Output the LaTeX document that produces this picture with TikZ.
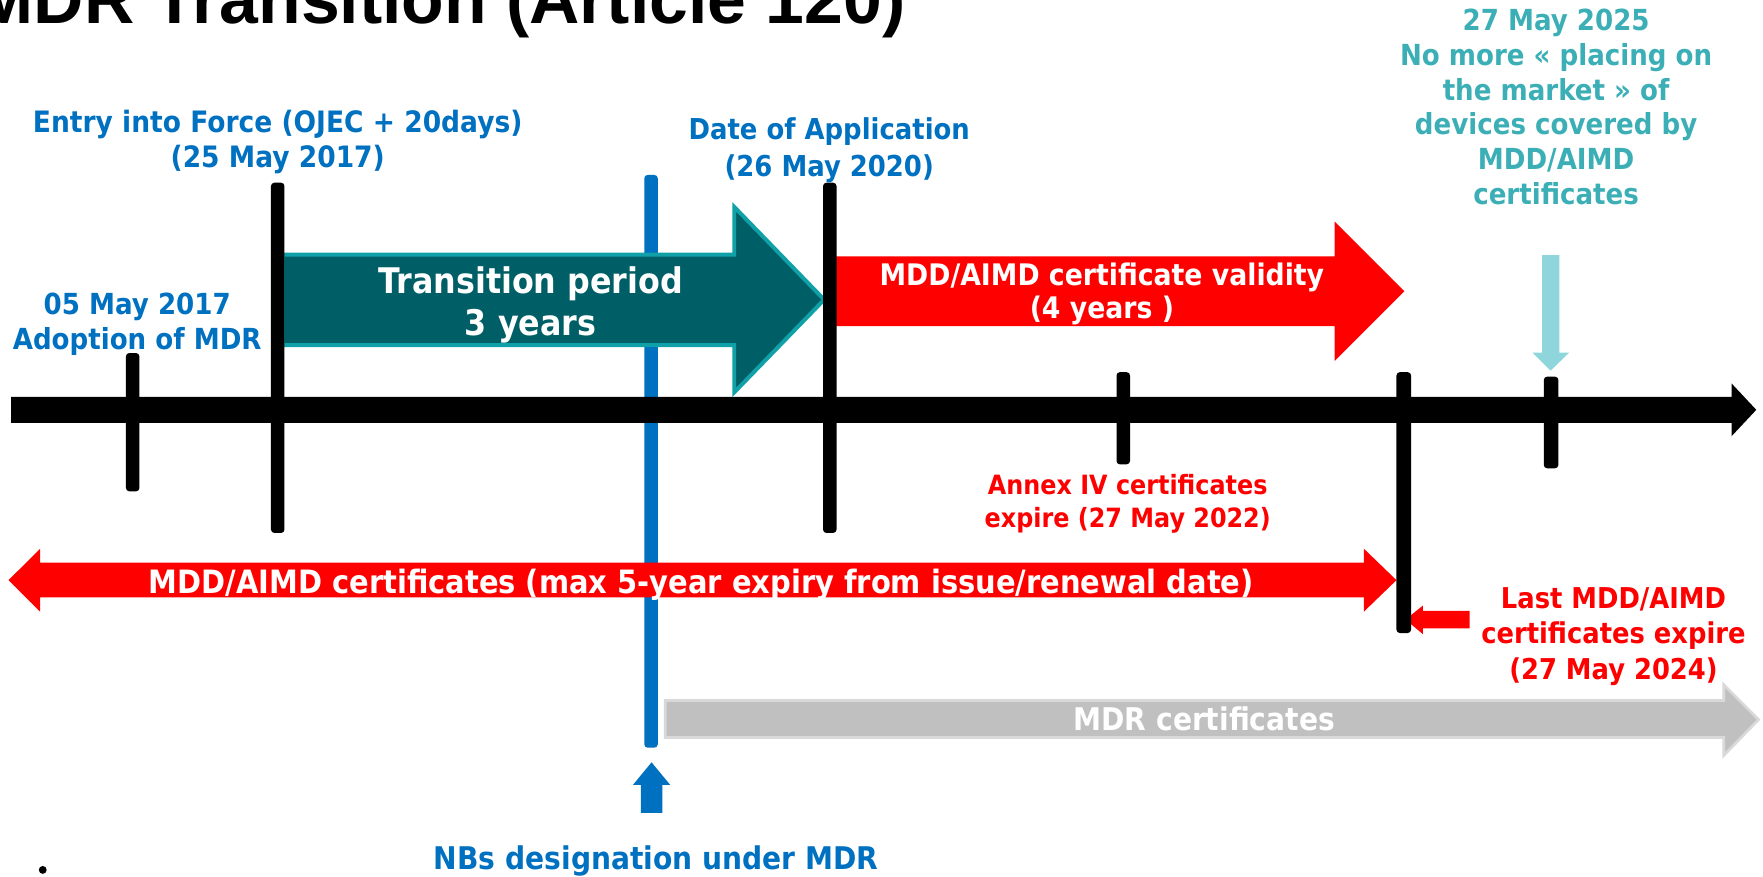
\documentclass[tikz,border=0pt]{standalone}
\usepackage{fontspec}
\newfontfamily\tah{DejaVu Sans}[FakeStretch=0.9]
\newfontfamily\ttl{Liberation Sans}
\definecolor{euBlue}{RGB}{0,112,192}
\definecolor{mddRed}{RGB}{255,0,0}
\definecolor{tealDark}{RGB}{0,95,102}
\definecolor{tealEdge}{RGB}{16,160,168}
\definecolor{tealText}{RGB}{60,175,182}
\definecolor{tealLight}{RGB}{142,214,220}
\definecolor{mdrGrey}{RGB}{192,192,192}
\definecolor{mdrEdge}{RGB}{217,217,217}
\begin{document}
\begin{tikzpicture}[x=0.5pt,y=-0.5pt,
  lbl/.style={inner sep=0pt, align=center, anchor=base},
  fs/.style 2 args={font=\tah\bfseries\fontsize{#1}{#2}\selectfont},
  tickbar/.style={fill=black, rounded corners=1.5}]
\useasboundingbox (0,0) rectangle (1568,780);

% title, partly above the page
\node[anchor=base west, inner sep=0pt, font=\ttl\bfseries\fontsize{31}{36}\selectfont] (title) at (-22,21) {MDR Transition (Article 120)};

% notified bodies designation line
\fill[euBlue, rounded corners=1.5] (573,155.6) rectangle (585,665);

% MDR certificates band
\filldraw[fill=mdrGrey, draw=mdrEdge, line width=1.2pt]
  (591.6,623) -- (1533,623) -- (1533,609) -- (1564,640) -- (1533,672) -- (1533,656) -- (591.6,656) -- cycle;

% transition period arrow
\filldraw[fill=tealDark, draw=tealEdge, line width=1.75pt]
  (251.5,226.5) -- (653,226.5) -- (653,184) -- (733,266.5) -- (653,349) -- (653,307) -- (251.5,307) -- cycle;

% certificate validity arrow
\fill[mddRed] (743,228) -- (1187,228) -- (1187,197) -- (1249,259) -- (1187,321) -- (1187,290) -- (743,290) -- cycle;

% MDD/AIMD certificates double arrow
\fill[mddRed] (7.6,516) -- (35.7,488) -- (35.7,500.4) -- (1213,500.4) -- (1213,488) -- (1242,516)
  -- (1213,544) -- (1213,531.2) -- (35.7,531.2) -- (35.7,544) -- cycle;

% pointer to the last expiry date
\fill[mddRed] (1250,551) -- (1265.5,538.6) -- (1265.5,543.4) -- (1307,543.4) -- (1307,558.8)
  -- (1265.5,558.8) -- (1265.5,564) -- cycle;

% pointer to 27 May 2025
\fill[tealLight] (1371.6,226.8) -- (1386.8,226.8) -- (1386.8,313.7) -- (1395.5,313.7) -- (1379,329.7)
  -- (1363,313.7) -- (1371.6,313.7) -- cycle;

% pointer to NB designation
\fill[euBlue] (579.5,678) -- (596,698) -- (589,698) -- (589,723) -- (570,723) -- (570,698) -- (563,698) -- cycle;

% time axis
\fill (10,353) -- (1540,353) -- (1540,341) -- (1562,364.5) -- (1540,388) -- (1540,376) -- (10,376) -- cycle;

% date ticks
\fill[tickbar] (112,314) rectangle (124,437);
\fill[tickbar] (241,162.5) rectangle (253,474);
\fill[tickbar] (732,162.5) rectangle (744,474);
\fill[tickbar] (993,331) rectangle (1005,413);
\fill[tickbar] (1242,331) rectangle (1255,563);
\fill[tickbar] (1373,335) rectangle (1386,416.5);

% stray bullet
\fill (38,773.7) circle (3.5);

% labels (anchored at the baseline of their last line)
\node[lbl, fs={13.1}{15.3}, text=euBlue] (entry) at (247,148.6) {Entry into Force (OJEC + 20days)\\(25 May 2017)};
\node[lbl, fs={12.9}{15.5}, text=euBlue] (adopt) at (122,311) {05 May 2017\\Adoption of MDR};
\node[lbl, fs={12.8}{16.5}, text=euBlue] (doa) at (737.5,157) {Date of Application\\(26 May 2020)};
\node[lbl, fs={12.9}{15.5}, text=tealText] (pom) at (1384,182) {27 May 2025\\No more « placing on\\the market » of\\devices covered by\\MDD/AIMD\\certificates};
\node[lbl, fs={15.7}{18.75}, text=white] (trans) at (472,298.5) {Transition period\\3 years};
\node[lbl, fs={13.2}{14.75}, text=white] (valid) at (980,283) {MDD/AIMD certificate validity\\(4 years )};
\node[lbl, fs={14.3}{17}, text=white] (mddcert) at (623.7,527.7) {MDD/AIMD certificates (max 5-year expiry from issue/renewal date)};
\node[lbl, fs={11.8}{14.5}, text=mddRed] (annex) at (1003,469) {Annex IV certificates\\expire (27 May 2022)};
\node[lbl, fs={12.75}{15.8}, text=mddRed] (last) at (1435,604) {Last MDD/AIMD\\certificates expire\\(27 May 2024)};
\node[lbl, fs={13.9}{16}, text=white] (mdrcert) at (1071,650) {MDR certificates};
\node[lbl, fs={13.9}{16}, text=euBlue] (nbs) at (583.6,773.7) {NBs designation under MDR};
\end{tikzpicture}
\end{document}
